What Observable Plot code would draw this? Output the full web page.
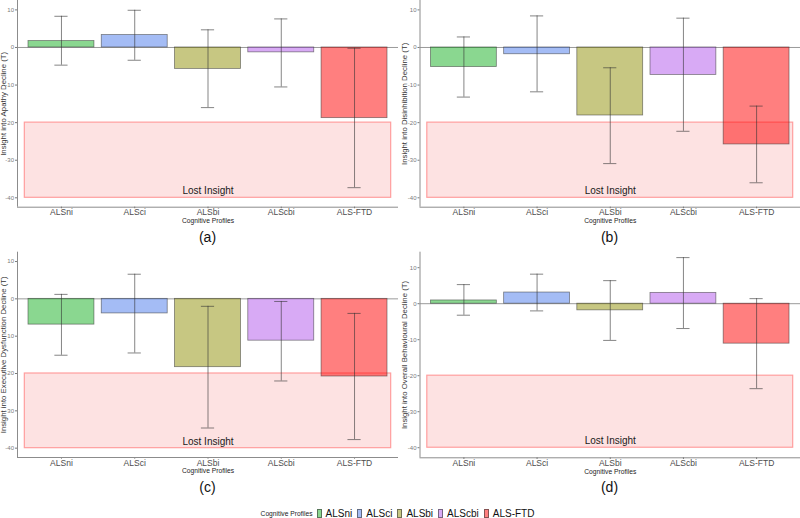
<!DOCTYPE html>
<html><head><meta charset="utf-8">
<script src="https://cdn.jsdelivr.net/npm/d3@7"></script>
<script src="https://cdn.jsdelivr.net/npm/@observablehq/plot@0.6"></script>
<style>
body{margin:0;background:#fff;font-family:"Liberation Sans",Arial,sans-serif;}
#root{position:relative;width:800px;height:518px;overflow:hidden;background:#fff}
.panel{position:absolute}
.tag{position:absolute;font-size:14px;color:#111;transform:translate(-50%,-50%);line-height:1}
#legend{position:absolute;top:506px;left:0;width:800px;height:14px;display:flex;justify-content:center;align-items:center;}
#legend .lt{font-size:6.7px;color:#222;margin-right:4px}
#legend .sw{display:inline-block;width:5px;height:9px;box-sizing:border-box;border:0.8px solid rgba(51,51,51,0.6);margin-right:4px}
#legend .lab{font-size:10px;color:#111;margin-right:5px}
</style></head>
<body><div id="root"></div>
<script>
const categories = ["ALSni", "ALSci", "ALSbi", "ALScbi", "ALS-FTD"];
const colors = ["#16b022", "#4a7aeb", "#8f8f05", "#b155eb", "#ff0000"];

const apathyMean = [1.7, 3.3, -5.7, -1.3, -18.8];
const apathyLow  = [-4.7, -3.4, -16.0, -10.5, -37.3];
const apathyHigh = [8.3, 9.9, 4.7, 7.6, -0.2];

const disinhibitionMean = [-5.2, -1.8, -18.1, -7.3, -25.8];
const disinhibitionLow  = [-13.2, -11.8, -30.9, -22.3, -36.0];
const disinhibitionHigh = [2.8, 8.4, -5.4, 7.8, -15.6];

const executiveMean = [-6.9, -3.9, -18.3, -11.2, -20.8];
const executiveLow  = [-15.1, -14.5, -34.6, -22.0, -37.7];
const executiveHigh = [1.2, 6.6, -2.0, -0.7, -3.9];

const overallMean = [0.9, 3.1, -1.85, 3.0, -11.1];
const overallLow  = [-3.2, -2.0, -10.2, -6.9, -23.6];
const overallHigh = [5.3, 8.2, 6.4, 12.8, 1.4];

const yTicks = [10, 0, -10, -20, -30, -40];
const lostRegion = {x1: 0.5, x2: 5.5, y1: -20, y2: -40, labelY: -38.2, label: "Lost Insight"};
const xDomain = [0.4, 5.6];
const barHalf = 0.45, capHalf = 0.09;

function panel(cfg) {
  const data = categories.map((c, k) => ({cat: c, i: k + 1, mean: cfg.mean[k], low: cfg.low[k], high: cfg.high[k]}));
  const errStyle = {stroke: "#333", strokeOpacity: 0.75, strokeWidth: 0.8};
  return Plot.plot({
    width: 400, height: 230,
    marginLeft: cfg.ml, marginRight: cfg.mr, marginTop: cfg.mt, marginBottom: cfg.mb,
    style: {background: "transparent", fontFamily: "Liberation Sans, Arial, sans-serif", overflow: "visible"},
    x: {domain: xDomain, axis: null},
    y: {domain: cfg.domain, axis: null},
    color: {domain: categories, range: colors},
    marks: [
      Plot.rect([lostRegion], {x1: "x1", x2: "x2", y1: "y1", y2: "y2", fill: "#fde2e2", stroke: "#ff9e9e", strokeWidth: 1.2}),
      Plot.ruleY([0], {stroke: "#9a9a9a", strokeWidth: 1}),
      Plot.rect(data, {x1: d => d.i - barHalf, x2: d => d.i + barHalf, y1: 0, y2: "mean", fill: "cat", fillOpacity: 0.5, stroke: "#333", strokeOpacity: 0.6, strokeWidth: 0.8}),
      Plot.ruleX(data, {x: "i", y1: "low", y2: "high", ...errStyle}),
      Plot.ruleY(data, {y: "low", x1: d => d.i - capHalf, x2: d => d.i + capHalf, ...errStyle}),
      Plot.ruleY(data, {y: "high", x1: d => d.i - capHalf, x2: d => d.i + capHalf, ...errStyle}),
      Plot.text([lostRegion], {x: d => (d.x1 + d.x2) / 2, y: "labelY", text: "label", fontSize: 10, fill: "#1a1a1a"}),
      Plot.axisY({ticks: yTicks, tickFormat: d => String(d), tickSize: 2, tickPadding: 1.5, fontSize: 6, color: "#7a7a7a", label: null}),
      Plot.axisX({ticks: [1, 2, 3, 4, 5], tickFormat: i => categories[i - 1], tickSize: 1.5, tickPadding: 0.5, fontSize: 8.5, color: "#4d4d4d", label: null}),
      Plot.ruleX([xDomain[0]], {stroke: "#8c8c8c", strokeWidth: 1}),
      Plot.ruleY([cfg.domain[0]], {stroke: "#8c8c8c", strokeWidth: 1}),
      Plot.text([cfg.title], {text: d => d, frameAnchor: "left", textAnchor: "middle", lineAnchor: "middle", rotate: -90, dx: cfg.titleDx, fontSize: 7.8, fill: "#333"}),
      Plot.text(["Cognitive Profiles"], {text: d => d, frameAnchor: "bottom", lineAnchor: "middle", dy: 13.8, fontSize: 6.7, fill: "#222"})
    ]
  });
}

const root = document.getElementById("root");
const panels = [
  {left: 0, top: 0, title: "Insight into Apathy Decline (T)", mean: apathyMean, low: apathyLow, high: apathyHigh,
   domain: [-42.5, 12.5], ml: 17, mr: 2, mt: 0, mb: 23.3, titleDx: -13.6, tag: "(a)", tx: 207.5, ty: 237},
  {left: 400, top: 0, title: "Insight into Disinhibition Decline (T)", mean: disinhibitionMean, low: disinhibitionLow, high: disinhibitionHigh,
   domain: [-42.5, 12.5], ml: 19.5, mr: 0, mt: 0, mb: 23.3, titleDx: -15.5, tag: "(b)", tx: 609.5, ty: 237},
  {left: 0, top: 250, title: "Insight into Executive Dysfunction Decline (T)", mean: executiveMean, low: executiveLow, high: executiveHigh,
   domain: [-42.5, 12.5], ml: 17, mr: 2, mt: 1.7, mb: 23, titleDx: -13.6, tag: "(c)", tx: 207.5, ty: 487},
  {left: 400, top: 250, title: "Insight into Overall Behavioural Decline (T)", mean: overallMean, low: overallLow, high: overallHigh,
   domain: [-42.8, 14.3], ml: 19.5, mr: 0, mt: 1.7, mb: 22.7, titleDx: -15.5, tag: "(d)", tx: 609.5, ty: 487}
];
for (const p of panels) {
  const div = document.createElement("div");
  div.className = "panel";
  div.style.left = p.left + "px";
  div.style.top = p.top + "px";
  div.appendChild(panel(p));
  root.appendChild(div);
  const t = document.createElement("div");
  t.className = "tag";
  t.style.left = p.tx + "px";
  t.style.top = p.ty + "px";
  t.textContent = p.tag;
  root.appendChild(t);
}

const legend = document.createElement("div");
legend.id = "legend";
const lt = document.createElement("span");
lt.className = "lt";
lt.textContent = "Cognitive Profiles";
legend.appendChild(lt);
categories.forEach((c, k) => {
  const sw = document.createElement("span");
  sw.className = "sw";
  const col = d3.color(colors[k]); col.opacity = 0.5;
  sw.style.background = col.formatRgb();
  legend.appendChild(sw);
  const lab = document.createElement("span");
  lab.className = "lab";
  lab.textContent = c;
  legend.appendChild(lab);
});
root.appendChild(legend);
</script>
</body></html>
